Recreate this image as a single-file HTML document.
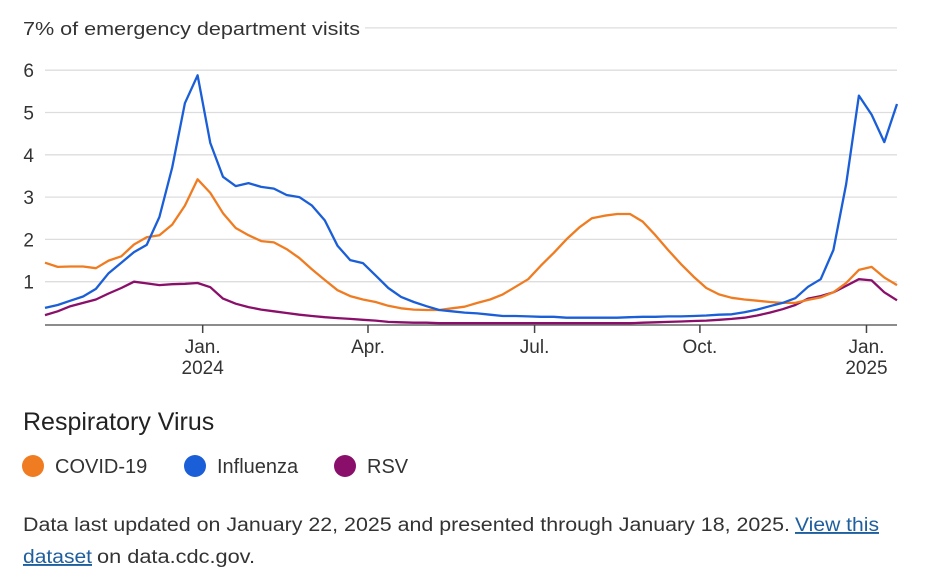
<!DOCTYPE html>
<html><head><meta charset="utf-8"><style>
html,body{margin:0;padding:0;background:#fff;}
svg{display:block;font-family:"Liberation Sans",sans-serif;}
</style></head><body>
<svg id="chart" width="936" height="588" viewBox="0 0 936 588" xmlns="http://www.w3.org/2000/svg">
<g id="grid"></g>
<g id="yt"></g>
<text x="23" y="35" font-size="18.5" fill="#333" textLength="337" lengthAdjust="spacingAndGlyphs">7% of emergency department visits</text>
<line x1="45" y1="325" x2="897" y2="325" stroke="#666" stroke-width="1.5"/>
<g id="xt"></g>
<g id="series"></g>
<text x="23" y="430" font-size="25" fill="#222">Respiratory Virus</text>
<g><circle cx="33" cy="466" r="11" fill="#f07c22"/><text x="55" y="473" font-size="20" fill="#333">COVID-19</text></g>
<g><circle cx="195" cy="466" r="11" fill="#1a5ed8"/><text x="217" y="473" font-size="20" fill="#333">Influenza</text></g>
<g><circle cx="345" cy="466" r="11" fill="#8a0f6a"/><text x="367" y="473" font-size="20" fill="#333">RSV</text></g>
<text x="23" y="531" font-size="19" fill="#333" textLength="767" lengthAdjust="spacingAndGlyphs">Data last updated on January 22, 2025 and presented through January 18, 2025.</text>
<text x="795" y="531" font-size="19" fill="#1f5f9e" text-decoration="underline" textLength="84" lengthAdjust="spacingAndGlyphs">View this</text>
<text x="23" y="563" font-size="19" fill="#1f5f9e" text-decoration="underline" textLength="69" lengthAdjust="spacingAndGlyphs">dataset</text>
<text x="97" y="563" font-size="19" fill="#333" textLength="158" lengthAdjust="spacingAndGlyphs">on data.cdc.gov.</text>
</svg>
<script>
const covid=[1.45,1.35,1.36,1.36,1.32,1.5,1.6,1.88,2.05,2.1,2.35,2.8,3.42,3.1,2.62,2.27,2.1,1.96,1.93,1.77,1.56,1.29,1.04,0.8,0.66,0.58,0.52,0.43,0.37,0.34,0.33,0.33,0.37,0.41,0.5,0.58,0.7,0.88,1.06,1.38,1.68,2.0,2.28,2.5,2.56,2.6,2.6,2.42,2.1,1.75,1.42,1.12,0.85,0.7,0.62,0.58,0.55,0.52,0.5,0.5,0.57,0.63,0.75,0.97,1.28,1.35,1.1,0.92];
const flu=[0.38,0.45,0.55,0.65,0.83,1.2,1.45,1.7,1.87,2.53,3.7,5.22,5.88,4.28,3.48,3.26,3.33,3.24,3.2,3.05,3.0,2.8,2.45,1.85,1.51,1.44,1.15,0.85,0.64,0.52,0.42,0.33,0.3,0.27,0.25,0.22,0.19,0.19,0.18,0.17,0.17,0.15,0.15,0.15,0.15,0.15,0.16,0.17,0.17,0.18,0.18,0.19,0.2,0.22,0.23,0.28,0.34,0.42,0.5,0.61,0.88,1.06,1.75,3.3,5.4,4.95,4.3,5.2];
const rsv=[0.21,0.3,0.42,0.5,0.58,0.72,0.85,1.0,0.96,0.92,0.94,0.95,0.97,0.87,0.6,0.48,0.4,0.34,0.3,0.26,0.22,0.19,0.16,0.14,0.12,0.1,0.08,0.05,0.04,0.03,0.03,0.02,0.02,0.02,0.02,0.02,0.02,0.02,0.02,0.02,0.02,0.02,0.02,0.02,0.02,0.02,0.02,0.03,0.04,0.05,0.06,0.07,0.08,0.1,0.12,0.15,0.2,0.27,0.35,0.45,0.6,0.66,0.75,0.9,1.06,1.03,0.75,0.56];
const yTicks=[1,2,3,4,5,6];
const xTickLabels=[["Jan.","2024"],["Apr.",""],["Jul.",""],["Oct.",""],["Jan.","2025"]];
const xTickWeeks=[12.4,25.4,38.5,51.5,64.6];
const NS="http://www.w3.org/2000/svg";
const X0=45,X1=897,Y0=324,PPU=42.3;
function xs(i){return X0+i*(X1-X0)/(covid.length-1);}
function ys(v){return Y0-v*PPU;}
function mk(t,a,p){const e=document.createElementNS(NS,t);for(const k in a)e.setAttribute(k,a[k]);p.appendChild(e);return e;}
const grid=document.getElementById('grid'),yt=document.getElementById('yt'),xt=document.getElementById('xt'),ser=document.getElementById('series');
yTicks.forEach(v=>{
 const l=mk('line',{x1:X0,x2:X1,y1:ys(v),y2:ys(v),stroke:'#ddd','stroke-width':1.3},grid);
 
 
 const t=mk('text',{x:34,y:ys(v)+7,'font-size':19,fill:'#333','text-anchor':'end'},yt);
 t.textContent=v;
 
 
});
const g7=mk('line',{x1:365,x2:X1,y1:ys(7),y2:ys(7),stroke:'#ddd','stroke-width':1.3},grid);


xTickWeeks.forEach((w,k)=>{
 const x=xs(w);
 const l=mk('line',{x1:x,x2:x,y1:325,y2:333,stroke:'#444','stroke-width':1.5},xt);
 
 
 const t=mk('text',{x:x,y:353,'font-size':19,fill:'#333','text-anchor':'middle'},xt);
 t.textContent=xTickLabels[k][0];
 
 
 if(xTickLabels[k][1]){
  const t2=mk('text',{x:x,y:374,'font-size':19,fill:'#333','text-anchor':'middle'},xt);
  t2.textContent=xTickLabels[k][1];
  
  
 }
});
[[rsv,'#8a0f6a','rsv-line'],[covid,'#f07c22','covid-line'],[flu,'#1a5ed8','influenza-line']].forEach(([d,c,n])=>{
 const p=mk('polyline',{points:d.map((v,i)=>xs(i).toFixed(1)+','+ys(v).toFixed(1)).join(' '),fill:'none',stroke:c,'stroke-width':2.3,'stroke-linejoin':'round'},ser);
 
 
});
</script>
</body></html>
